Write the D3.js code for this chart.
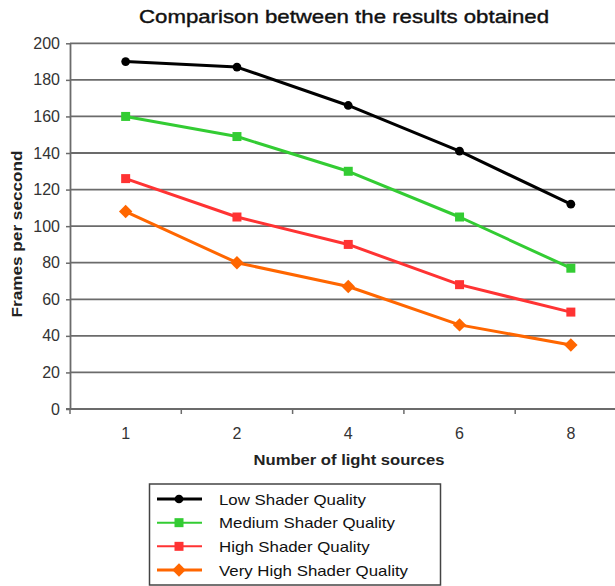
<!DOCTYPE html>
<html>
<head>
<meta charset="utf-8">
<script src="https://cdn.jsdelivr.net/npm/d3@7/dist/d3.min.js"></script>
<style>
  html, body { margin: 0; padding: 0; background: #fff; }
  svg { display: block; font-family: "Liberation Sans", Arial, sans-serif; }
</style>
</head>
<body>
<svg id="chart" width="615" height="586"></svg>
<script>
// Frames per second measured for each shader quality level
const lightSources = ["1", "2", "4", "6", "8"];
const seriesNames = ["Low Shader Quality", "Medium Shader Quality", "High Shader Quality", "Very High Shader Quality"];
const lowQuality = [190, 187, 166, 141, 112];
const mediumQuality = [160, 149, 130, 105, 77];
const highQuality = [126, 105, 90, 68, 53];
const veryHighQuality = [108, 80, 67, 46, 35];
const yTicks = [0, 20, 40, 60, 80, 100, 120, 140, 160, 180, 200];

const seriesValues = [lowQuality, mediumQuality, highQuality, veryHighQuality];
const seriesColors = ["#000000", "#33cc33", "#ff3333", "#ff6600"];
// marker: symbol type, area, rotation (a square turned 45° gives the diamond)
const seriesMarkers = [
  { type: d3.symbolCircle, size: 60, rotate: 0 },
  { type: d3.symbolSquare, size: 81, rotate: 0 },
  { type: d3.symbolSquare, size: 81, rotate: 0 },
  { type: d3.symbolSquare, size: 90, rotate: 45 }
];

const svg = d3.select("#chart");

const plot = { left: 70, right: 626.5, top: 43.3, bottom: 409 };

const x = d3.scaleBand().domain(lightSources).range([plot.left, plot.right]);
const y = d3.scaleLinear().domain([0, 200]).range([plot.bottom, plot.top]);

const gridColor = "#6b6b6b";

// horizontal gridlines
svg.append("g")
  .selectAll("line")
  .data(yTicks.filter(t => t > 0))
  .join("line")
  .attr("x1", plot.left).attr("x2", 615)
  .attr("y1", d => y(d)).attr("y2", d => y(d))
  .attr("stroke", gridColor).attr("stroke-width", 1.8);

// y axis
const yAxis = svg.append("g")
  .attr("transform", `translate(${plot.left},0)`)
  .call(d3.axisLeft(y).tickValues(yTicks).tickSize(4).tickPadding(6).tickSizeOuter(0));
yAxis.select(".domain").attr("stroke", gridColor).attr("stroke-width", 1.8);
yAxis.selectAll(".tick line").attr("stroke", gridColor).attr("stroke-width", 1.5);
yAxis.selectAll(".tick text")
  .attr("fill", "#333").attr("font-size", 16)
  .attr("font-family", "Liberation Sans, Arial, sans-serif");

// x axis: ticks sit at the band boundaries, labels at the band centres
const xAxisG = svg.append("g").attr("transform", `translate(0,${plot.bottom})`);
xAxisG.append("line")
  .attr("x1", plot.left - 4).attr("x2", 615)
  .attr("y1", 0).attr("y2", 0)
  .attr("stroke", gridColor).attr("stroke-width", 1.8);
const tickEdges = lightSources.map(d => x(d)).concat([x(lightSources[lightSources.length - 1]) + x.bandwidth()]);
xAxisG.selectAll("line.tick")
  .data(tickEdges)
  .join("line")
  .attr("class", "tick")
  .attr("x1", d => d).attr("x2", d => d)
  .attr("y1", 0).attr("y2", 5)
  .attr("stroke", gridColor).attr("stroke-width", 1.5);
xAxisG.selectAll("text")
  .data(lightSources)
  .join("text")
  .attr("x", d => x(d) + x.bandwidth() / 2)
  .attr("y", 30)
  .attr("text-anchor", "middle")
  .attr("fill", "#333")
  .attr("font-size", 16)
  .text(d => d);

// series lines and markers
const cx = i => x(lightSources[i]) + x.bandwidth() / 2;
const line = d3.line().x((d, i) => cx(i)).y(d => y(d));

function markerPath(m) {
  return d3.symbol().type(m.type).size(m.size)();
}

seriesValues.forEach((vals, s) => {
  const g = svg.append("g");
  const m = seriesMarkers[s];
  g.append("path")
    .datum(vals)
    .attr("d", line)
    .attr("fill", "none")
    .attr("stroke", seriesColors[s])
    .attr("stroke-width", 3)
    .attr("stroke-linejoin", "round");
  g.selectAll("path.marker")
    .data(vals)
    .join("path")
    .attr("class", "marker")
    .attr("transform", (d, i) => `translate(${cx(i)},${y(d)}) rotate(${m.rotate})`)
    .attr("d", markerPath(m))
    .attr("fill", seriesColors[s]);
});

// title
svg.append("text")
  .attr("x", 344).attr("y", 23)
  .attr("text-anchor", "middle")
  .attr("font-size", 19)
  .attr("fill", "#111")
  .attr("stroke", "#111").attr("stroke-width", 0.4)
  .attr("textLength", 410).attr("lengthAdjust", "spacingAndGlyphs")
  .text("Comparison between the results obtained");

// axis titles
svg.append("text")
  .attr("x", 349).attr("y", 465)
  .attr("text-anchor", "middle")
  .attr("font-size", 15.5).attr("font-weight", "bold")
  .attr("fill", "#222")
  .attr("textLength", 191).attr("lengthAdjust", "spacingAndGlyphs")
  .text("Number of light sources");

svg.append("text")
  .attr("transform", "translate(22,234) rotate(-90)")
  .attr("text-anchor", "middle")
  .attr("font-size", 15.5).attr("font-weight", "bold")
  .attr("fill", "#222")
  .attr("textLength", 167).attr("lengthAdjust", "spacingAndGlyphs")
  .text("Frames per seccond");

// legend
const legend = svg.append("g");
legend.append("rect")
  .attr("x", 149.5).attr("y", 484)
  .attr("width", 291).attr("height", 101)
  .attr("fill", "#fff")
  .attr("stroke", "#444").attr("stroke-width", 1.5);
const rowY = d3.scaleLinear().domain([0, 3]).range([499, 570]);
const legendTexts = [];
seriesNames.forEach((name, s) => {
  const yy = rowY(s);
  const m = seriesMarkers[s];
  legend.append("line")
    .attr("x1", 157).attr("x2", 202)
    .attr("y1", yy).attr("y2", yy)
    .attr("stroke", seriesColors[s]).attr("stroke-width", s === 0 || s === 3 ? 3 : 2);
  legend.append("path")
    .attr("transform", `translate(179,${yy}) rotate(${m.rotate})`)
    .attr("d", markerPath(m))
    .attr("fill", seriesColors[s]);
  legendTexts.push(legend.append("text")
    .attr("x", 219).attr("y", yy + 5.5)
    .attr("font-size", 15)
    .attr("fill", "#111")
    .text(name));
});
// the legend face is a little wider than the installed sans: stretch every entry by the same factor
const longest = d3.max(legendTexts, t => t.node().getComputedTextLength());
const stretch = 189 / longest;
legendTexts.forEach(t => {
  t.attr("textLength", t.node().getComputedTextLength() * stretch)
   .attr("lengthAdjust", "spacingAndGlyphs");
});
</script>
</body>
</html>
